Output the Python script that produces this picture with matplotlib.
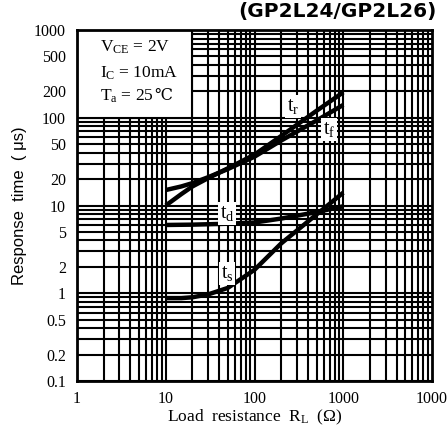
import matplotlib
matplotlib.use("Agg")
import matplotlib.pyplot as plt
from matplotlib.patches import Rectangle

plt.rcParams['mathtext.fontset'] = 'custom'
plt.rcParams['mathtext.rm'] = 'Liberation Serif'
plt.rcParams['mathtext.it'] = 'Liberation Serif:italic'
plt.rcParams['mathtext.fallback'] = 'stix'

# Data
R_tr = [10, 15, 20, 30, 50, 100, 200, 500, 1000]
t_r = [10, 13.5, 16.5, 20.5, 26.5, 38, 62, 120, 195]
R_tf = [10, 15, 20, 30, 50, 100, 200, 500, 1000]
t_f = [15, 16.5, 18, 21, 26, 36, 55, 93, 140]
R_td = [10, 20, 50, 100, 200, 500, 1000]
t_d = [6.0, 6.05, 6.2, 6.4, 7.1, 8.4, 9.8]
R_ts = [10, 15, 20, 30, 50, 100, 200, 500, 1000]
t_s = [0.88, 0.88, 0.9, 0.97, 1.15, 1.85, 3.7, 7.9, 14]

x_ticks = [1, 10, 100, 1000, 10000]
x_ticklabels = ["1", "10", "100", "1000", "1000"]
y_ticks = [1000, 500, 200, 100, 50, 20, 10, 5, 2, 1, 0.5, 0.2, 0.1]
y_ticklabels = ["1000", "500", "200", "100", "50", "20", "10", "5", "2", "1", "0.5", "0.2", "0.1"]

serif = ['Liberation Serif', 'DejaVu Serif', 'DejaVu Sans']

fig = plt.figure(figsize=(4.47, 4.34), dpi=100)
ax = fig.add_axes([77/447, 1-381/434, 355/447, 351/434])
ax.set_xscale('log')
ax.set_yscale('log')
ax.set_xlim(1, 10000)
ax.set_ylim(0.1, 1000)

# grid: every 1..9 of each decade
gl = 1.5
for dec in [1, 10, 100, 1000]:
    for m in range(1, 10):
        ax.axvline(dec*m, color='black', lw=gl, zorder=1)
for dec in [0.1, 1, 10, 100]:
    for m in range(1, 10):
        ax.axhline(dec*m, color='black', lw=gl, zorder=1)

# condition box
ax.add_patch(Rectangle((1, 100), 19, 900, facecolor='white', edgecolor='black', lw=gl, zorder=2))
bfs = 12.5
ax.text(0.065, 0.952, "V$_{\\mathrm{CE}}$ = 2V", transform=ax.transAxes, fontsize=bfs,
        family=serif, va='center', ha='left', zorder=3)
ax.text(0.065, 0.877, "I$_{\\mathrm{C}}$ = 10mA", transform=ax.transAxes, fontsize=bfs,
        family=serif, va='center', ha='left', zorder=3)
t3 = ax.text(0.065, 0.800, "T$_{\\mathrm{a}}$ = 25", transform=ax.transAxes, fontsize=bfs,
             family=serif, va='baseline', ha='left', zorder=3)

lw = 3.2
ax.plot(R_tr, t_r, color='black', lw=lw, zorder=4, solid_capstyle='butt')
ax.plot(R_tf, t_f, color='black', lw=lw, zorder=4, solid_capstyle='butt')
ax.plot(R_td, t_d, color='black', lw=lw, zorder=4, solid_capstyle='butt')
ax.plot(R_ts, t_s, color='black', lw=lw, zorder=4, solid_capstyle='butt')

bb = dict(facecolor='white', edgecolor='none', pad=1.5)
lfs = 14.5
ax.text(272, 136, "t$_{\\mathrm{r}}$", fontsize=lfs, family=serif, ha='center', va='center', bbox=bb, zorder=5)
ax.text(690, 74, "t$_{\\mathrm{f}}$", fontsize=lfs, family=serif, ha='center', va='center', bbox=bb, zorder=5)
ax.text(49, 8.2, "t$_{\\mathrm{d}}$", fontsize=lfs, family=serif, ha='center', va='center', bbox=bb, zorder=5)
ax.text(49, 1.7, "t$_{\\mathrm{s}}$", fontsize=lfs, family=serif, ha='center', va='center', bbox=bb, zorder=5)

ax.set_xticks(x_ticks)
ax.set_xticklabels(x_ticklabels, family=serif, fontsize=11.5)
ax.set_yticks(y_ticks)
ax.set_yticklabels(y_ticklabels, family=serif, fontsize=11.5)
ax.minorticks_off()
ax.tick_params(axis='x', length=0, pad=7)
ax.tick_params(axis='y', length=0, pad=8)
for s in ax.spines.values():
    s.set_linewidth(2)
    s.set_zorder(6)

ax.set_xlabel("Load  resistance  R$_{\\mathrm{L}}$  (\u03a9)", family=serif, fontsize=12.5, labelpad=1)
ax.set_ylabel("Response  time  ( \u03bcs)", family=['Liberation Sans', 'DejaVu Sans'], fontsize=12, labelpad=5)

fig.text(437/447, 1-2/434, "(GP2L24/GP2L26)", ha='right', va='top', fontsize=14.5,
         fontweight='bold', family=['DejaVu Sans'])

# degree-Celsius sign placed right after "T_a = 25"
fig.canvas.draw()
ext = t3.get_window_extent()
xa = ax.transAxes.inverted().transform((ext.x1, ext.y0))[0]
ax.text(xa, 0.800, "\u2103", transform=ax.transAxes, fontsize=bfs - 1,
        family=['DejaVu Serif', 'DejaVu Sans'], va='baseline', ha='left', zorder=3)

fig.savefig("out.png", dpi=100)
